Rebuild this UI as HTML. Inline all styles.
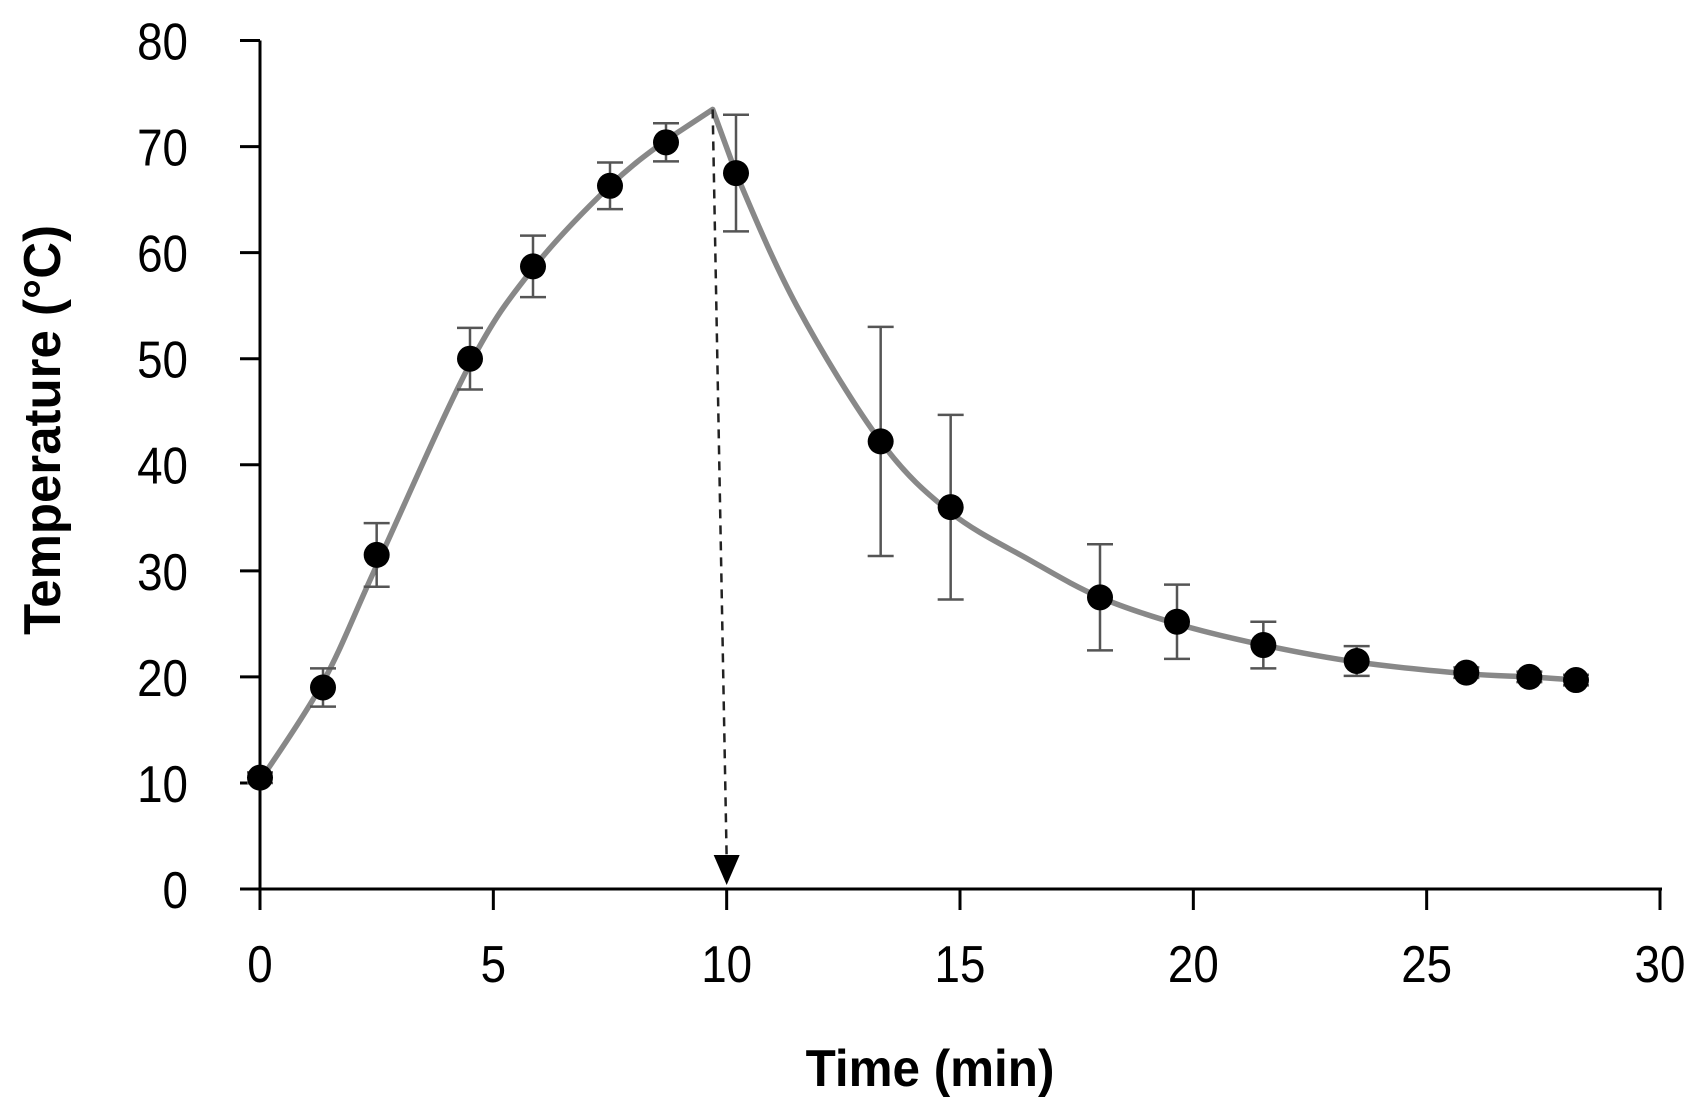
<!DOCTYPE html>
<html><head><meta charset="utf-8"><style>
html,body{margin:0;padding:0;background:#fff;}
svg{display:block;}
text{font-family:"Liberation Sans",sans-serif;fill:#000;}
</style></head><body>
<svg id="chart" width="1705" height="1116" viewBox="0 0 1705 1116" xmlns="http://www.w3.org/2000/svg">
<g id="axes"></g>
<g id="curve"></g>
<g id="arrow"></g>
<g id="errs"></g>
<g id="pts"></g>
<text x="930" y="1086" text-anchor="middle" font-size="52" font-weight="bold" transform="translate(930 0) scale(0.95 1) translate(-930 0)">Time (min)</text>
<text transform="translate(60 430) rotate(-90) scale(0.98 1)" text-anchor="middle" font-size="52" font-weight="bold">Temperature (°C)</text>
</svg>
<script>
const times = [0,1.35,2.5,4.5,5.85,7.5,8.7,10.2,13.3,14.8,18,19.65,21.5,23.5,25.85,27.2,28.2];
const temps = [10.5,19,31.5,50,58.7,66.3,70.4,67.5,42.2,36,27.5,25.2,23,21.5,20.4,20,19.7];
const errs = [0.5,1.8,3,2.9,2.9,2.2,1.8,5.5,10.8,8.7,5,3.5,2.2,1.4,0.5,0.5,0.5];
const curveT = [0,1.35,2.5,4.5,5.85,7.5,8.7,9.7,10.2,11.5,13.3,14.8,16.5,18,19.65,21.5,23.5,25.85,27.2,28.2];
const curveV = [10.2,19.5,30.5,49.5,58.5,66.3,70.6,73.5,67.5,55,42.2,35.5,31,27.5,25,23,21.4,20.3,20,19.7];
const xTicks = [0,5,10,15,20,25,30];
const yTicks = [0,10,20,30,40,50,60,70,80];
const peakT = 9.7, peakV = 73.5, arrowT = 10;

const X0=260,X1=1660,Y0=889,Y1=40.5;
const sx=t=>X0+(t/30)*(X1-X0);
const sy=v=>Y0-(v/80)*(Y0-Y1);
const NS="http://www.w3.org/2000/svg";
function mk(tag,attrs,parent){const e=document.createElementNS(NS,tag);for(const k in attrs)e.setAttribute(k,attrs[k]);parent.appendChild(e);return e;}

const axes=document.getElementById('axes');
let a=mk('line',{x1:X0,y1:Y1,x2:X0,y2:Y0+2,stroke:'#000','stroke-width':3},axes);


a=mk('line',{x1:X0-20,y1:Y0,x2:X1+2,y2:Y0,stroke:'#000','stroke-width':3},axes);


yTicks.forEach(v=>{
  const t=mk('line',{x1:X0-20,y1:sy(v),x2:X0,y2:sy(v),stroke:'#000','stroke-width':3},axes);
  
  
  const l=mk('text',{x:188,y:sy(v)+19,'text-anchor':'end','font-size':52,transform:`translate(188 0) scale(0.88 1) translate(-188 0)`},axes);
  l.textContent=v;
  
  
});
xTicks.forEach(v=>{
  const t=mk('line',{x1:sx(v),y1:Y0,x2:sx(v),y2:Y0+21,stroke:'#000','stroke-width':3},axes);
  
  
  const l=mk('text',{x:sx(v),y:982,'text-anchor':'middle','font-size':52,transform:`translate(${sx(v)} 0) scale(0.88 1) translate(${-sx(v)} 0)`},axes);
  l.textContent=v;
  
  
});

const P=curveT.map((t,i)=>[sx(t),sy(curveV[i])]);
let d=`M${P[0][0]},${P[0][1]}`;
for(let i=0;i<P.length-1;i++){
  const p0=P[Math.max(0,i-1)],p1=P[i],p2=P[i+1],p3=P[Math.min(P.length-1,i+2)];
  const peak=(curveT[i+1]===peakT||curveT[i]===peakT);
  if(peak){d+=` L${p2[0]},${p2[1]}`;continue;}
  const c1=[p1[0]+(p2[0]-p0[0])/6,p1[1]+(p2[1]-p0[1])/6];
  const c2=[p2[0]-(p3[0]-p1[0])/6,p2[1]-(p3[1]-p1[1])/6];
  d+=` C${c1[0]},${c1[1]} ${c2[0]},${c2[1]} ${p2[0]},${p2[1]}`;
}
const cp=mk('path',{d,fill:'none',stroke:'#888','stroke-width':5.5,'stroke-linejoin':'round'},document.getElementById('curve'));



const ar=document.getElementById('arrow');
const al=mk('line',{x1:sx(peakT),y1:sy(peakV),x2:sx(arrowT),y2:Y0-30,stroke:'#222','stroke-width':2.5,'stroke-dasharray':'9,7'},ar);


const ax=sx(arrowT);
const ah=mk('polygon',{points:`${ax-13},${Y0-34} ${ax+13},${Y0-34} ${ax},${Y0-4}`,fill:'#000'},ar);



const eg=document.getElementById('errs'),pg=document.getElementById('pts');
times.forEach((t,i)=>{
  const x=sx(t),yt=sy(temps[i]+errs[i]),yb=sy(temps[i]-errs[i]);
  const g=mk('path',{d:`M${x},${yt}V${yb}M${x-13},${yt}H${x+13}M${x-13},${yb}H${x+13}`,stroke:'#555','stroke-width':2.5,fill:'none'},eg);
  
  
  const c=mk('circle',{cx:x,cy:sy(temps[i]),r:13,fill:'#000'},pg);
  
  
});
</script>
</body></html>
